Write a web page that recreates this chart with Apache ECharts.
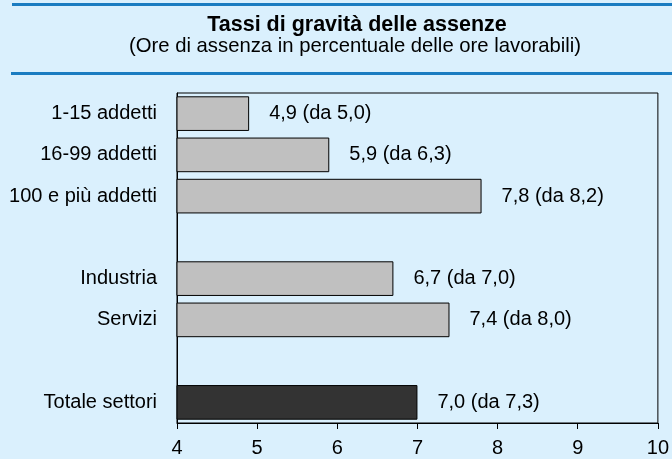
<!DOCTYPE html>
<html>
<head>
<meta charset="utf-8">
<script src="https://cdn.jsdelivr.net/npm/echarts@6/dist/echarts.min.js"></script>
<style>
html,body{margin:0;padding:0;background:#daf0fd;}
#chart{width:672px;height:459px;}
</style>
</head>
<body>
<div id="chart"></div>
<script>
const categories = ['1-15 addetti', '16-99 addetti', '100 e più addetti', '', 'Industria', 'Servizi', '', 'Totale settori'];
const values = [4.9, 5.9, 7.8, null, 6.7, 7.4, null, 7.0];
const previousValues = [5.0, 6.3, 8.2, null, 7.0, 8.0, null, 7.3];
const xTicks = [4, 5, 6, 7, 8, 9, 10];
const highlightCategory = 'Totale settori';

const FONT = "'Liberation Sans', Arial, sans-serif";
const fmt = v => v.toFixed(1).replace('.', ',');

const chart = echarts.init(document.getElementById('chart'), null, {renderer: 'canvas'});
chart.setOption({
  backgroundColor: '#daf0fd',
  animation: false,
  textStyle: {fontFamily: FONT},
  title: [
    {text: 'Tassi di gravità delle assenze', left: 352, top: 9, textAlign: 'center',
     textStyle: {fontFamily: FONT, fontSize: 21.5, fontWeight: 'bold', color: '#000'}},
    {text: '(Ore di assenza in percentuale delle ore lavorabili)', left: 350, top: 31, textAlign: 'center',
     textStyle: {fontFamily: FONT, fontSize: 20.3, fontWeight: 'normal', color: '#000'}}
  ],
  graphic: [
    {type: 'rect', shape: {x: 12, y: 3, width: 660, height: 3}, style: {fill: '#1a7cc1'}},
    {type: 'rect', shape: {x: 11, y: 72, width: 661, height: 3}, style: {fill: '#1a7cc1'}}
  ],
  grid: {left: 177, right: 14, top: 93, bottom: 36, show: true, borderColor: '#000', borderWidth: 1, backgroundColor: 'transparent'},
  xAxis: {
    type: 'value', min: xTicks[0], max: xTicks[xTicks.length - 1], interval: 1,
    axisLine: {show: true, lineStyle: {color: '#000', width: 1}},
    axisTick: {show: true, length: 6, lineStyle: {color: '#000'}},
    axisLabel: {fontSize: 20, color: '#000', margin: 15, fontFamily: FONT},
    splitLine: {show: false}
  },
  yAxis: {
    type: 'category', data: categories, inverse: true,
    axisLine: {show: true, lineStyle: {color: '#000', width: 1}},
    axisTick: {show: false},
    axisLabel: {fontSize: 20, color: '#000', margin: 20, fontFamily: FONT}
  },
  series: [{
    type: 'bar',
    data: values,
    barCategoryGap: '16%',
    itemStyle: {
      color: p => categories[p.dataIndex] === highlightCategory ? '#333333' : '#c0c0c0',
      borderColor: '#000', borderWidth: 1
    },
    label: {
      show: true, position: 'right', distance: 20,
      fontSize: 20, color: '#000', fontFamily: FONT,
      formatter: p => p.value == null ? '' : fmt(p.value) + ' (da ' + fmt(previousValues[p.dataIndex]) + ')'
    }
  }]
});
</script>
</body>
</html>
